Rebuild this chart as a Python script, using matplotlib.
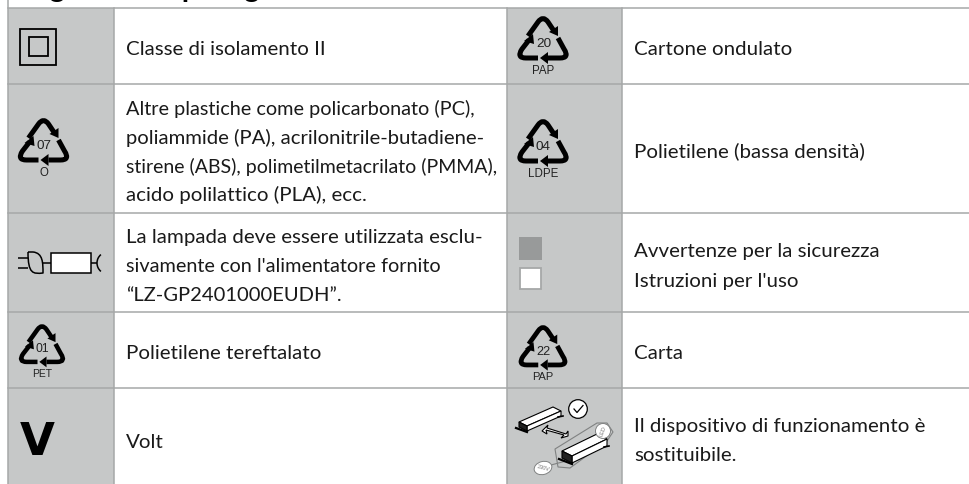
import matplotlib
matplotlib.use("Agg")
import matplotlib.pyplot as plt
from matplotlib.patches import Rectangle, Polygon, Ellipse, Circle, Arc, PathPatch
from matplotlib.path import Path

# ---- table content ----
title = "Legenda dei pittogrammi"
row_edges = [8, 84, 213, 312, 388, 484]
left_labels = [
    ["Classe di isolamento II"],
    ["Altre plastiche come policarbonato (PC),", "poliammide (PA), acrilonitrile-butadiene-",
     "stirene (ABS), polimetilmetacrilato (PMMA),", "acido polilattico (PLA), ecc."],
    ["La lampada deve essere utilizzata esclu-", "sivamente con l'alimentatore fornito",
     "“LZ-GP2401000EUDH”."],
    ["Polietilene tereftalato"],
    ["Volt"],
]
right_labels = [
    ["Cartone ondulato"],
    ["Polietilene (bassa densità)"],
    ["Avvertenze per la sicurezza", "Istruzioni per l'uso"],
    ["Carta"],
    ["Il dispositivo di funzionamento è", "sostituibile."],
]
left_y = [[55], [115, 144, 173, 201], [243, 272, 301], [359], [448]]
right_y = [[55], [157], [257, 287], [359], [432, 461]]
left_sizes = [[14.75], [14.35, 14.6, 14.0, 14.75], [14.75, 14.3, 14.5], [14.75], [14.75]]
recycle_marks = [(43.5, 119, "07", "O", 1.0), (42, 325, "01", "PET", 0.9),
                 (543, 17, "20", "PAP", 1.0), (543, 120, "04", "LDPE", 1.0),
                 (543, 326, "22", "PAP", 0.95)]

GRAY = "#c6c8c8"
LINE = "#a6a8a8"
FONT = "Lato"
SIZE = 14.75

fig = plt.figure(figsize=(9.69, 4.84), dpi=100)
ax = fig.add_axes([0, 0, 1, 1])
ax.set_xlim(0, 969)
ax.set_ylim(484, 0)
ax.axis("off")

ax.text(19, -3.0, title, fontsize=21, fontweight="bold", family=FONT, color="black",
        va="baseline", ha="left", clip_on=True)

for x0, x1 in [(8, 114), (507, 622)]:
    ax.add_patch(Rectangle((x0, 8), x1 - x0, 476, fc=GRAY, ec="none", zorder=0))
for y in row_edges[:-1]:
    ax.plot([8, 969], [y, y], color=LINE, lw=1.1, zorder=1)
for x in [8, 114, 507, 622]:
    ax.plot([x, x], [8 if x != 8 else 0, 484], color=LINE, lw=1.1, zorder=1)

for lines, ys, sizes in zip(left_labels, left_y, left_sizes):
    for s, y, fs in zip(lines, ys, sizes):
        ax.text(126, y, s, fontsize=fs, family=FONT, color="#1a1a1a", va="baseline", ha="left")
for lines, ys in zip(right_labels, right_y):
    for s, y in zip(lines, ys):
        ax.text(634, y, s, fontsize=SIZE, family=FONT, color="#1a1a1a", va="baseline", ha="left")


def stroke(verts, codes, lw, color="black", zorder=3, cap="butt"):
    ax.add_patch(PathPatch(Path(verts, codes), fc="none", ec=color, lw=lw, capstyle=cap,
                           joinstyle="round", zorder=zorder))


def recycle(cx, top, code, name, s):
    def P(x, y):
        return (cx + x * s, top + y * s)
    M, L, Q = Path.MOVETO, Path.LINETO, Path.CURVE3
    lw = 3.6 * s
    stroke([P(-15, 19), P(-5, 5), P(0, -2), P(5, 5), P(11, 14)], [M, L, Q, Q, L], lw)
    stroke([P(15, 21), P(21, 32), P(27, 41), P(17, 41), P(5, 41)], [M, L, Q, Q, L], lw)
    stroke([P(-5, 41), P(-17, 41), P(-27, 41), P(-21, 32), P(-14, 23)], [M, L, Q, Q, L], lw)
    ax.add_patch(Polygon([P(6, 15), P(15, 9), P(15, 19)], fc="black", ec="none", zorder=3))
    ax.add_patch(Polygon([P(5, 35), P(5, 47), P(-3, 41)], fc="black", ec="none", zorder=3))
    ax.add_patch(Polygon([P(-19, 24), P(-9, 27), P(-10, 17)], fc="black", ec="none", zorder=3))
    ax.text(*P(0.5, 27), code, fontsize=9.7 * s, family="Liberation Sans", color="#222222",
            ha="center", va="center")
    ax.text(*P(0, 54), name, fontsize=8.3 * s, family="Liberation Sans", color="#222222",
            ha="center", va="center")


for m in recycle_marks:
    recycle(*m)

# protection class II
ax.add_patch(Rectangle((20.5, 28.5), 36, 36, fc="none", ec="black", lw=1.3, zorder=3))
ax.add_patch(Rectangle((29, 37), 19, 19, fc="none", ec="black", lw=1.3, zorder=3))

# lamp / power supply symbol
M, L, C = Path.MOVETO, Path.LINETO, Path.CURVE4
for yy in (258, 268):
    stroke([(18, yy), (28, yy)], [M, L], 1.1)
stroke([(28, 252), (33, 252), (43, 253), (43, 263), (43, 273), (33, 274), (28, 274), (28, 252)],
       [M, L, C, C, C, C, C, L], 1.1, zorder=4)
stroke([(43, 263), (51, 263)], [M, L], 1.1)
ax.add_patch(Rectangle((51, 253), 40, 20, fc="white", ec="black", lw=1.1, zorder=3))
stroke([(91, 263), (97, 263)], [M, L], 1.1)
ax.add_patch(Arc((108, 263), 22, 22, theta1=130, theta2=230, ec="black", lw=1.1, zorder=3))

# volt
ax.text(37.5, 455, "V", fontsize=32.5, fontweight="bold", family="DejaVu Sans", color="black",
        ha="center", va="baseline")

# document squares
ax.add_patch(Rectangle((519, 237), 23, 23, fc="#989a9a", ec="none", zorder=3))
ax.add_patch(Rectangle((520, 268), 21, 21, fc="white", ec="#a6a8a8", lw=1.3, zorder=3))


def device(x, y, dx, dy, ox, oy, h, lw=0.8):
    top = [(x, y), (x + dx, y + dy), (x + dx + ox, y + dy + oy), (x + ox, y + oy)]
    front = [(x, y), (x + ox, y + oy), (x + ox, y + oy + h), (x, y + h)]
    side = [(x + ox, y + oy), (x + dx + ox, y + dy + oy), (x + dx + ox, y + dy + oy + h), (x + ox, y + oy + h)]
    for pts, c in ((top, "white"), (side, "white"), (front, "#222222")):
        ax.add_patch(Polygon(pts, fc=c, ec="black", lw=lw, zorder=4))
    ax.plot([x - 3, x + ox], [y + h + 1, y + h + oy + 1], color="black", lw=1.6, zorder=4)
    ax.plot([x + dx + ox - 3, x + dx + ox + 2], [y + dy + oy + h + 1, y + dy + oy + h], color="black", lw=1.2, zorder=4)


# exchangeable device illustration
ax.add_patch(Polygon([(555, 449), (597, 423), (607, 423), (613, 432), (607, 441), (570, 468), (558, 467)],
                     fc="none", ec="#808282", lw=0.8, zorder=3))
ax.plot([551, 566], [465, 461], color="#808282", lw=0.8, zorder=3)
device(519, 422, 34, -15, 8, 4, 5)
device(562, 451, 35, -17, 10, 5, 7)
ax.add_patch(Circle((578, 409), 9.3, fc="white", ec="black", lw=0.9, zorder=4))
ax.plot([574, 577, 583], [409, 412.5, 405.5], color="black", lw=0.9, zorder=5)
ax.add_patch(Polygon([(542, 431), (548, 425), (547, 428), (566, 434), (568, 431), (568, 436),
                      (561, 438), (564, 435), (546, 430), (547, 434)], fc="white", ec="black", lw=0.8, zorder=4))
ax.add_patch(Ellipse((603, 431), 15, 15, fc="white", ec="#808282", lw=0.7, zorder=4))
ax.add_patch(Ellipse((543, 468), 18, 13, angle=-15, fc="white", ec="#808282", lw=0.7, zorder=4))
ax.text(603, 431, "LED", fontsize=4, rotation=70, color="#777777", family="Liberation Sans",
        ha="center", va="center", zorder=5)
ax.text(543, 468, "230V", fontsize=4, rotation=-15, color="#777777", family="Liberation Sans",
        ha="center", va="center", zorder=5)

fig.savefig("out.png", dpi=100)
